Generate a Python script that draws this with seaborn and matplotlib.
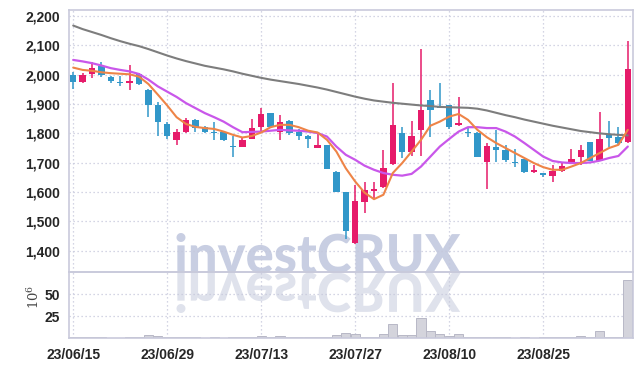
import numpy as np
import pandas as pd
import matplotlib
matplotlib.use("Agg")
from matplotlib import pyplot as plt
from matplotlib.textpath import TextPath
from matplotlib.patches import PathPatch
from matplotlib.font_manager import FontProperties
from matplotlib.transforms import Affine2D
from matplotlib.ticker import FuncFormatter
import seaborn as sns

# trading days (KRX, 2023-08-15 closed)
dates = pd.bdate_range("2023-06-15", "2023-09-07", freq="C", holidays=["2023-08-15"])

opens = [2000, 1974, 2003, 2030, 1993, 1972, 1970, 2002, 1948, 1897,
         1832, 1779, 1803, 1846, 1822, 1804, 1803, 1754, 1753, 1782,
         1821, 1869, 1806, 1843, 1803, 1792, 1750, 1761, 1670, 1599,
         1426, 1568, 1605, 1617, 1696, 1801, 1738, 1810, 1914, 1894,
         1896, 1827, 1802, 1801, 1701, 1753, 1744, 1703, 1712, 1667,
         1664, 1656, 1672, 1701, 1721, 1771, 1707, 1795, 1787, 1770]
highs = [2009, 2005, 2043, 2042, 1996, 1997, 2033, 2004, 1950, 1906,
         1838, 1814, 1852, 1848, 1825, 1840, 1805, 1791, 1787, 1848,
         1886, 1870, 1863, 1846, 1814, 1793, 1801, 1762, 1672, 1600,
         1625, 1636, 1633, 1742, 1973, 1821, 1841, 2087, 1948, 1973,
         1898, 1925, 1821, 1803, 1767, 1812, 1761, 1747, 1714, 1693,
         1666, 1693, 1699, 1747, 1761, 1772, 1874, 1843, 1821, 2115]
lows = [1952, 1972, 1990, 1993, 1972, 1960, 1948, 1965, 1856, 1790,
        1780, 1760, 1800, 1803, 1800, 1778, 1775, 1721, 1752, 1780,
        1806, 1818, 1776, 1795, 1778, 1750, 1749, 1677, 1600, 1441,
        1424, 1528, 1579, 1615, 1692, 1716, 1723, 1723, 1787, 1887,
        1814, 1826, 1787, 1719, 1610, 1704, 1704, 1687, 1665, 1665,
        1650, 1636, 1670, 1699, 1693, 1706, 1705, 1755, 1765, 1768]
closes = [1976, 2000, 2022, 1998, 1977, 1970, 1979, 1967, 1895, 1840,
          1790, 1804, 1846, 1818, 1806, 1802, 1777, 1752, 1776, 1818,
          1866, 1820, 1838, 1802, 1790, 1782, 1761, 1679, 1602, 1469,
          1570, 1608, 1610, 1682, 1829, 1738, 1791, 1880, 1880, 1888,
          1823, 1835, 1800, 1721, 1757, 1743, 1710, 1699, 1667, 1676,
          1657, 1672, 1689, 1713, 1744, 1707, 1781, 1784, 1767, 2020]

ma_short = [2024, 2016, 2013, 2008, 2005, 2003, 2001, 1993, 1968, 1932,
            1895, 1855, 1832, 1822, 1818, 1815, 1806, 1795, 1786, 1791,
            1803, 1821, 1829, 1829, 1821, 1809, 1803, 1778, 1738, 1681,
            1636, 1598, 1576, 1591, 1665, 1699, 1738, 1778, 1826, 1840,
            1857, 1866, 1846, 1812, 1787, 1767, 1750, 1733, 1716, 1699,
            1685, 1676, 1676, 1687, 1699, 1716, 1733, 1750, 1761, 1812]
ma_mid = [2050, 2045, 2039, 2031, 2022, 2016, 2011, 2002, 1983, 1960,
          1942, 1924, 1903, 1886, 1869, 1855, 1840, 1821, 1804, 1805,
          1806, 1809, 1812, 1810, 1809, 1806, 1801, 1789, 1755, 1727,
          1710, 1690, 1676, 1665, 1659, 1656, 1662, 1687, 1721, 1755,
          1781, 1806, 1821, 1821, 1818, 1818, 1806, 1789, 1767, 1744,
          1721, 1706, 1701, 1699, 1699, 1701, 1707, 1716, 1723, 1755]
ma_long = [2167, 2155, 2145, 2135, 2124, 2114, 2105, 2097, 2087, 2076,
           2065, 2055, 2046, 2038, 2030, 2024, 2018, 2011, 2003, 1996,
           1989, 1983, 1978, 1973, 1968, 1962, 1956, 1949, 1941, 1933,
           1925, 1918, 1912, 1908, 1904, 1901, 1898, 1895, 1893, 1890,
           1889, 1888, 1887, 1884, 1878, 1870, 1862, 1855, 1847, 1840,
           1833, 1826, 1820, 1814, 1808, 1804, 1800, 1797, 1795, 1793]

# volume in millions
volume = [0.8, 0.6, 0.7, 0.6, 0.5, 0.5, 1.5, 0.8, 3.0, 1.8,
          1.2, 0.8, 0.9, 0.6, 0.5, 0.6, 0.5, 0.6, 0.8, 1.5,
          2.0, 1.0, 1.8, 0.8, 0.6, 0.7, 0.9, 1.5, 3.0, 6.0,
          5.0, 1.5, 1.0, 4.0, 16.0, 3.0, 3.0, 23.0, 7.5, 4.0,
          2.0, 4.0, 1.5, 1.5, 1.2, 0.8, 0.6, 0.5, 0.8, 0.5,
          0.6, 0.7, 0.6, 1.0, 2.5, 1.2, 7.5, 1.5, 1.5, 66.0]

tick_idx = [0, 10, 20, 30, 40, 50]

UP = "#e61b6a"
DOWN = "#3197c9"
GRID = "#c6c8dc"
SPINE = "#c9cadb"

df = pd.DataFrame({"date": dates, "open": opens, "high": highs, "low": lows,
                   "close": closes, "ma5": ma_short, "ma20": ma_mid,
                   "ma_long": ma_long, "vol": volume})
df["idx"] = np.arange(len(df))

sns.set_theme(style="white")
plt.rcParams["font.family"] = ["Liberation Sans", "DejaVu Sans"]
plt.rcParams["mathtext.fontset"] = "dejavuserif"

fig = plt.figure(figsize=(6.42, 3.67), dpi=100)
fig.patch.set_facecolor("white")
ax = fig.add_axes([68.5 / 642, 1 - 272 / 367, 564 / 642, 262 / 367])
axv = fig.add_axes([68.5 / 642, 1 - 338 / 367, 564 / 642, 66 / 367], sharex=ax)

# watermark with reflection
fp = FontProperties(family=["Lato", "Liberation Sans"], weight="black")
tp = TextPath((0, 0), "investCRUX", size=50, prop=fp)
bb = tp.get_extents()
sx = 284 / bb.width
sy = 40 / bb.y1
cx, base = 318.5, 367 - 273
to_fig = Affine2D().scale(1 / 100) + fig.dpi_scale_trans
for sgn, col in [(1, "#c8cee2"), (-1, "#dfe2ec")]:
    tr = Affine2D().translate(-(bb.x0 + bb.width / 2), 0).scale(sx, sgn * sy).translate(cx, base) + to_fig
    fig.patches.append(PathPatch(tp, transform=tr, facecolor=col, edgecolor="none",
                                 zorder=-1, figure=fig))

for a in (ax, axv):
    a.set_facecolor("none")
    a.set_axisbelow(True)
    a.grid(True, linestyle=(0, (1, 2.2)), color=GRID, linewidth=0.9)
    for s in a.spines.values():
        s.set_color(SPINE)
        s.set_linewidth(1.2)

# candles
up = df["close"] >= df["open"]
colors = np.where(up, UP, DOWN)
body_lo = np.minimum(df["open"], df["close"])
body_h = np.maximum((df["close"] - df["open"]).abs(), 4)
ax.vlines(df["idx"], df["low"], df["high"], colors=colors, linewidth=1.1, zorder=3)
ax.bar(df["idx"], body_h, bottom=body_lo, width=0.68, color=colors, linewidth=0, zorder=4)

sns.lineplot(data=df, x="idx", y="ma_long", ax=ax, color="#7d7d7d", linewidth=1.5, zorder=5)
sns.lineplot(data=df, x="idx", y="ma20", ax=ax, color="#c957ea", linewidth=1.6, zorder=5)
sns.lineplot(data=df, x="idx", y="ma5", ax=ax, color="#ee8447", linewidth=1.5, zorder=6)

sns.barplot(data=df, x="idx", y="vol", ax=axv, native_scale=True, errorbar=None,
            color="#d4d4dc", edgecolor="#b8b8c6", linewidth=0.7, width=0.96,
            saturation=1)

ax.set_xlim(-0.5, 59.5)
ax.set_ylim(1328, 2220)
axv.set_ylim(0, 75)
ax.set_yticks(range(1400, 2201, 100))
ax.yaxis.set_major_formatter(FuncFormatter(lambda v, p: f"{v:,.0f}"))
axv.set_yticks([25, 50])
axv.set_xticks(tick_idx)
axv.set_xticklabels([df["date"][i].strftime("%y/%m/%d") for i in tick_idx])
ax.tick_params(labelbottom=False)
for a in (ax, axv):
    a.set_xlabel("")
    a.set_ylabel("")
    a.tick_params(axis="both", labelsize=10, labelcolor="#262626", length=3,
                  color=SPINE, pad=3)
    for lab in a.get_xticklabels() + a.get_yticklabels():
        lab.set_fontweight("bold")
axv.tick_params(axis="x", pad=4)

fig.text(34 / 642, 1 - 297 / 367, r"$10^6$", rotation=90, ha="center", va="center",
         fontsize=9.5, color="#444444")

fig.savefig("out.png", dpi=100)
plt.close(fig)
